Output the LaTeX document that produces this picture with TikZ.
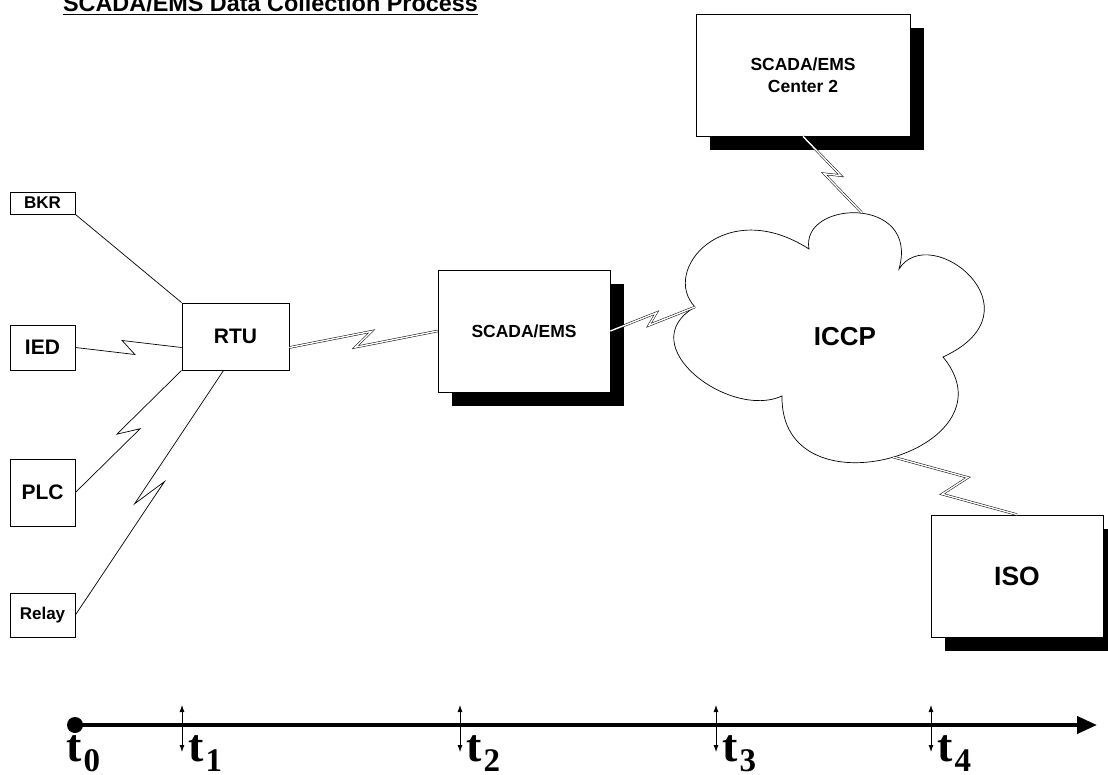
\documentclass[tikz,border=0pt]{standalone}
\usepackage{fontspec}
\setmainfont{Liberation Serif}
\setsansfont{Liberation Sans}
\newfontfamily\timefont{Liberation Serif}
\usepackage{tikz}
\usetikzlibrary{calc,shadows,arrows.meta}

\newcommand{\fsz}[1]{\fontsize{#1}{#1}\selectfont}
\newcommand{\tsub}[1]{\hspace{2pt}\raisebox{-10pt}{\timefont\bfseries\fsz{33}#1}}
% zigzag radio link between two points
\newcommand{\bolt}[4][]{%
  \draw[#1] (#2) -- ($(#2)!0.56!(#3)!#4!-90:(#3)$)
    -- ($(#2)!0.44!(#3)!#4!90:(#3)$) -- (#3);}

\begin{document}
\begin{tikzpicture}[x=1pt,y=-1pt,
  box/.style={draw,line width=0.8pt,fill=white,inner sep=0pt},
  shadowbox/.style={box,drop shadow={shadow xshift=14pt,shadow yshift=-14pt,fill=black,opacity=1}},
  wire/.style={line width=0.7pt},
  radio/.style={double,double distance=1.4pt,line width=0.5pt},
  tmark/.style={line width=0.8pt,{Latex[length=7pt,width=5pt]}-{Latex[length=7pt,width=5pt]}},
  tlabel/.style={anchor=base west,inner sep=0pt,font=\timefont\bfseries\fsz{46}}]
  \useasboundingbox (0,0) rectangle (1108,775);

  % title
  \node[anchor=base,inner sep=0pt,font=\sffamily\bfseries\fsz{23.4}] (title) at (270.5,12) {SCADA/EMS Data Collection Process};
  \draw[line width=1.8pt] ([yshift=-2.5pt]title.base west) -- ([yshift=-2.5pt]title.base east);

  % field devices and RTU
  \node[box,minimum width=65pt,minimum height=22pt,font=\sffamily\bfseries\fsz{17}] (bkr) at (42.5,203) {BKR};
  \node[box,minimum width=65pt,minimum height=45pt,font=\sffamily\bfseries\fsz{21}] (ied) at (42.5,347.5) {IED};
  \node[box,minimum width=65pt,minimum height=67pt,font=\sffamily\bfseries\fsz{21}] (plc) at (42.5,492.5) {PLC};
  \node[box,minimum width=65pt,minimum height=44pt,font=\sffamily\bfseries\fsz{17}] (relay) at (42.5,615) {Relay};
  \node[box,minimum width=107pt,minimum height=67pt,font=\sffamily\bfseries\fsz{21}] (rtu) at (235.5,336.5) {RTU};

  % control centres
  \node[shadowbox,minimum width=172pt,minimum height=122pt,font=\sffamily\bfseries\fsz{17.5}] (scada) at (524,331) {SCADA/EMS};
  \node[shadowbox,minimum width=214pt,minimum height=122pt,align=center,font=\sffamily\bfseries\fsz{17.5}] (center2) at (803,75) {SCADA/EMS\\[4pt]Center 2};
  \node[shadowbox,minimum width=172pt,minimum height=122pt,font=\sffamily\bfseries\fsz{26.5}] (iso) at (1017,576) {ISO};

  % ICCP cloud
  \coordinate (cw) at (695,307);
  \coordinate (cnw) at (809,249);
  \coordinate (cne) at (899,269);
  \coordinate (ce) at (943,357);
  \coordinate (cs) at (782,396);
  \coordinate (cn) at (862,213);
  \coordinate (cb) at (893,457);
  \draw[wire,fill=white] (cw) .. controls (660,270) and (725,195) .. (cnw)
    .. controls (800,200) and (920,195) .. (cne)
    .. controls (930,220) and (1045,310) .. (ce)
    .. controls (1020,450) and (780,520) .. (cs)
    .. controls (730,420) and (630,345) .. cycle;
  \node[font=\sffamily\bfseries\fsz{26}] (iccp) at (845,337) {ICCP};

  % links
  \coordinate (rtu-in) at (ied.east -| rtu.west);
  \coordinate (rtu-out) at (ied.east -| rtu.east);
  \coordinate (rtu-bot) at ($(rtu.south west)!0.39!(rtu.south east)$);
  \draw[wire] (bkr.south east) -- (rtu.north west);
  \bolt[wire]{ied.east}{rtu-in}{7pt}
  \bolt[wire]{plc.east}{rtu.south west}{7pt}
  \bolt[wire]{relay.east}{rtu-bot}{7pt}
  \bolt[radio]{rtu-out}{scada.west}{-7pt}
  \bolt[radio]{scada.east}{cw}{-5pt}
  \bolt[radio]{center2.south}{cn}{-6pt}
  \bolt[radio]{cb}{iso.north}{-13pt}

  % time line
  \coordinate (tstart) at (75,725);
  \coordinate (tend) at (1097,725);
  \draw[line width=4pt,-{Triangle[length=20pt,width=17pt]}] (tstart) -- (tend);
  \fill (tstart) circle (8pt);
  \node[tlabel] (t0) at (66,761) {t\tsub{0}};
  \foreach \x/\n in {182/1,460/2,716/3,931/4}{
    \draw[tmark] (\x,705) -- (\x,752);
    \node[tlabel] (t\n) at (\x+6,761) {t\tsub{\n}};
  }
\end{tikzpicture}
\end{document}
